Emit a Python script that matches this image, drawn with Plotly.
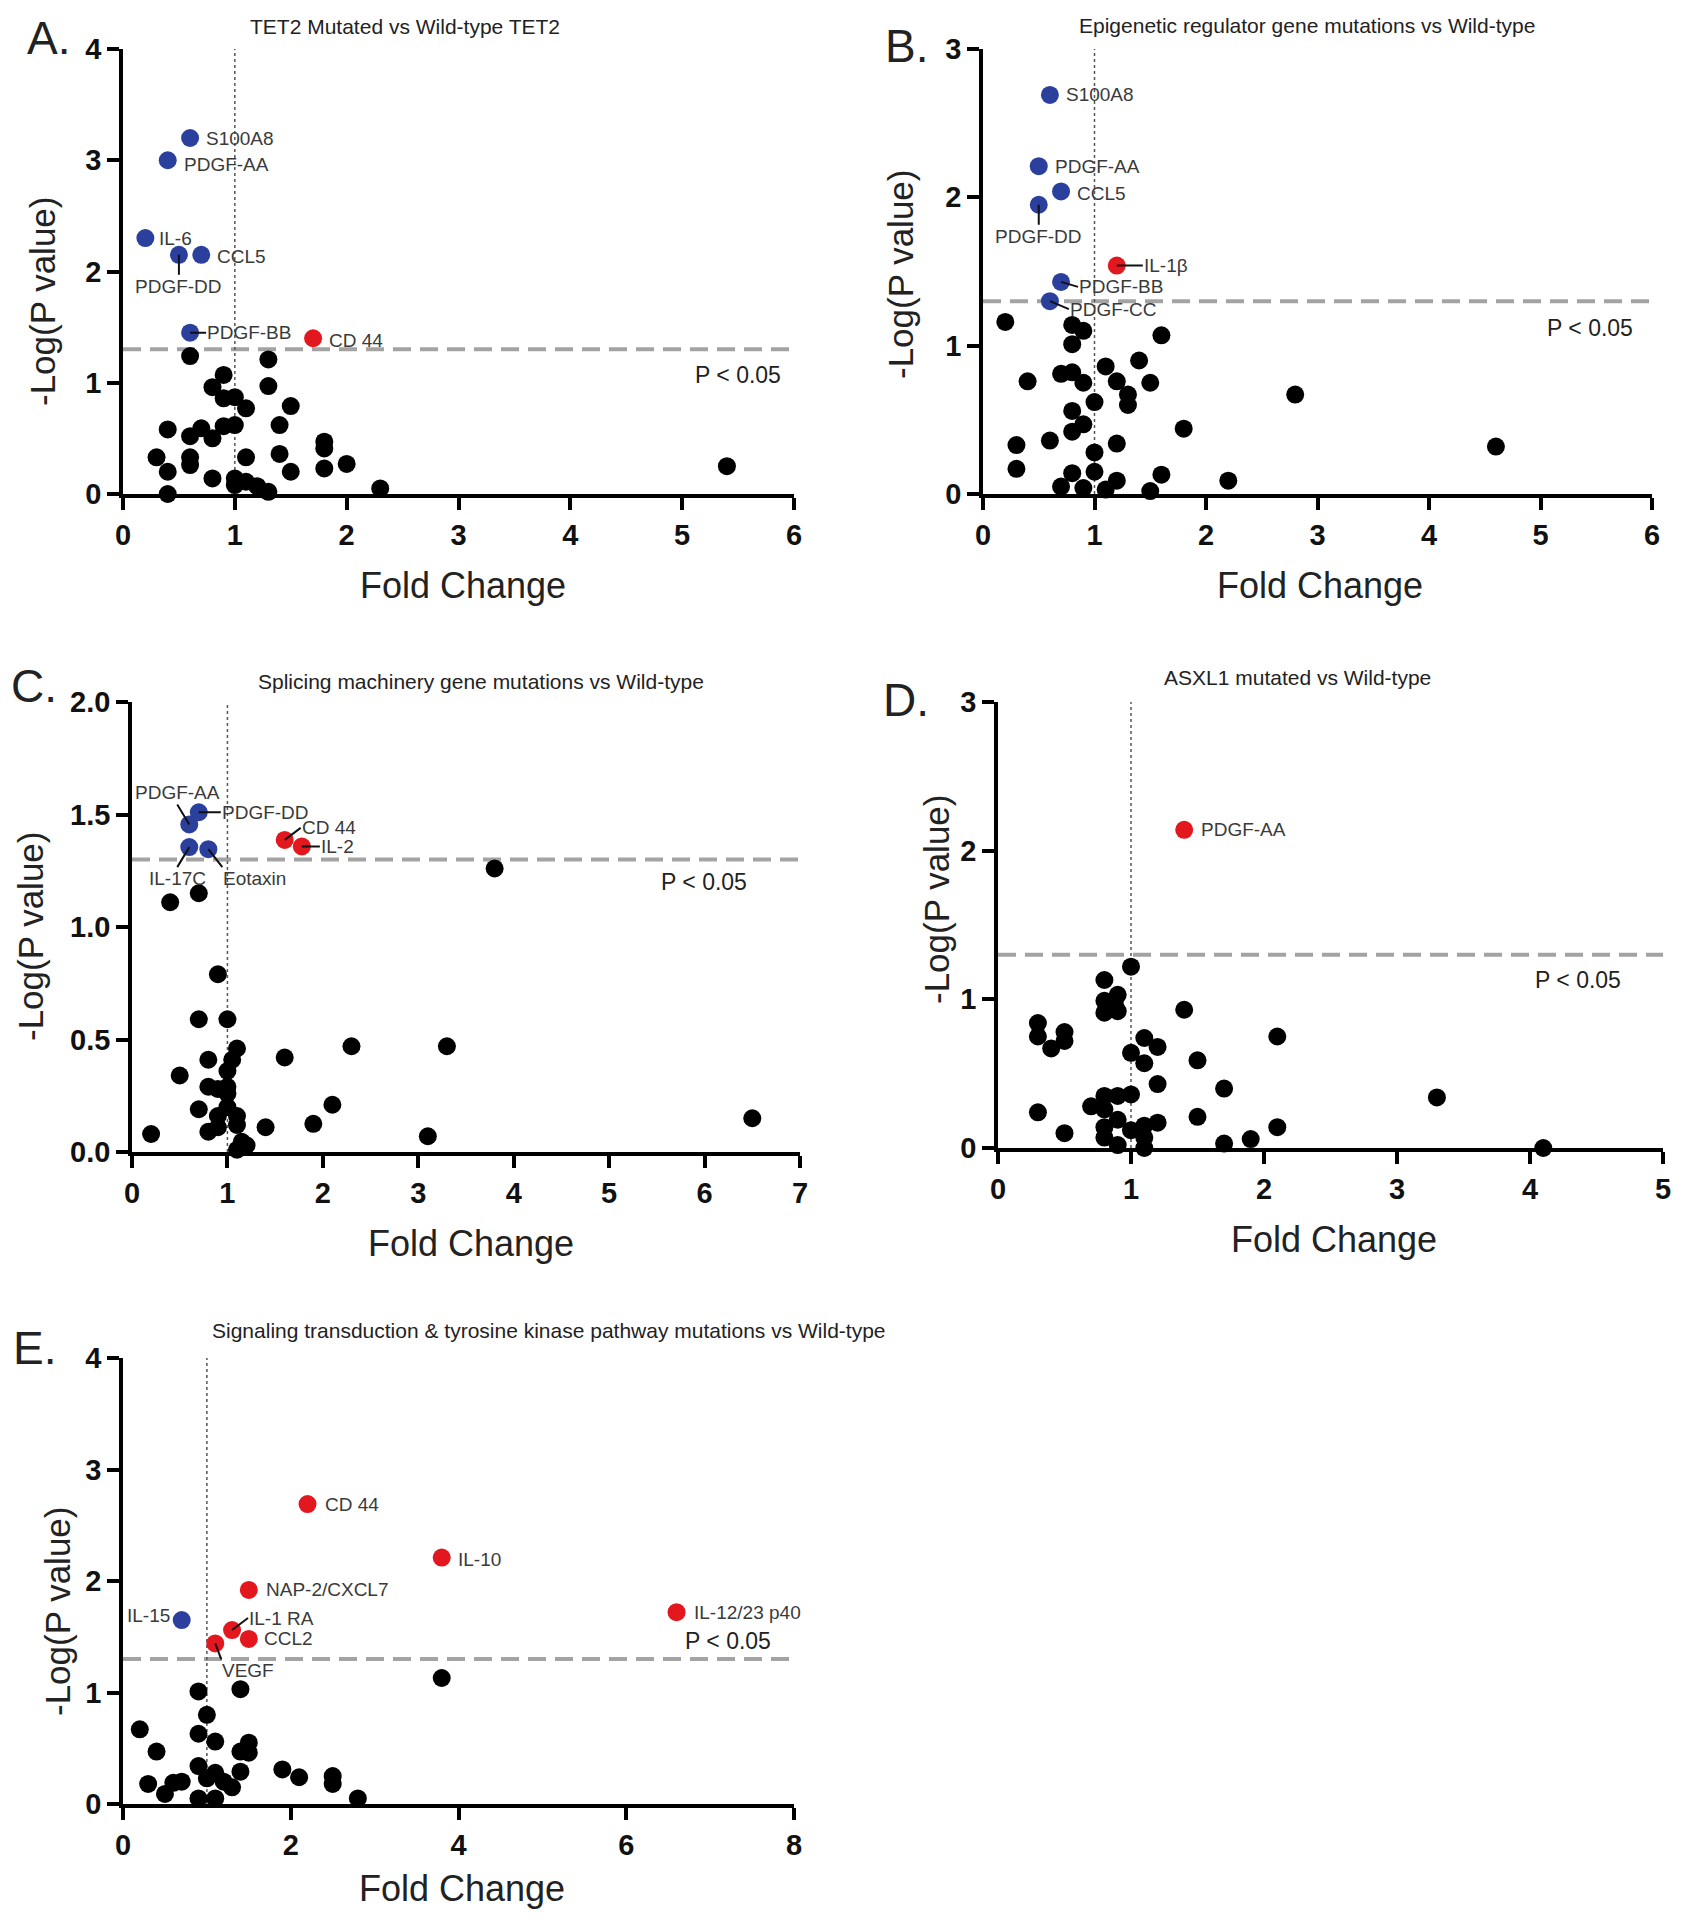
import plotly.graph_objects as go

# target picture is 1683x1920; the page body keeps an 8px margin, so the figure is
# sized to fit inside it and every pixel position is shifted by that margin.
TW, TH = 1683, 1920
OX, OY = 8, 8
FW, FH = TW - 2 * OX, TH - 2 * OY

FONT = "Liberation Sans, Arial, Helvetica, sans-serif"
BLUE = "#2b3f9c"
RED = "#e3171e"
BLACK = "#000000"
P_THRESHOLD = 1.3   # -log10(0.05)
FC_REF = 1.0

# ---------------- Panel A: TET2 ----------------
A_black_x = [0.6, 1.3, 0.9, 1.3, 0.8, 0.9, 1.0, 1.1, 1.5, 0.4, 0.7, 0.6, 0.8, 0.9, 1.0, 1.4, 0.3, 0.6,
             0.6, 1.1, 1.4, 1.8, 1.8, 2.0, 1.8, 0.4, 1.5, 0.8, 1.0, 1.1, 1.0, 1.2, 1.3, 0.4, 2.3, 5.4]
A_black_y = [1.24, 1.21, 1.07, 0.97, 0.96, 0.86, 0.87, 0.77, 0.79, 0.58, 0.59, 0.52, 0.50, 0.61, 0.62, 0.62, 0.33, 0.33,
             0.26, 0.33, 0.36, 0.47, 0.41, 0.27, 0.23, 0.20, 0.20, 0.14, 0.14, 0.11, 0.08, 0.07, 0.02, 0.0, 0.05, 0.25]
A_blue_names = ["S100A8", "PDGF-AA", "IL-6", "PDGF-DD", "CCL5", "PDGF-BB"]
A_blue_x = [0.6, 0.4, 0.2, 0.5, 0.7, 0.6]
A_blue_y = [3.2, 3.0, 2.3, 2.15, 2.15, 1.45]
A_red_names = ["CD 44"]
A_red_x = [1.7]
A_red_y = [1.40]

# ---------------- Panel B: Epigenetic ----------------
B_black_x = [0.2, 0.8, 0.9, 0.8, 1.6, 1.4, 1.1, 0.7, 0.8, 0.4, 0.9, 1.2, 1.5, 1.3, 1.3, 1.0, 0.8, 2.8,
             1.8, 0.9, 0.8, 0.6, 0.3, 1.2, 1.0, 4.6, 0.3, 0.8, 1.0, 1.6, 1.2, 2.2, 0.7, 0.9, 1.1, 1.5]
B_black_y = [1.16, 1.14, 1.10, 1.01, 1.07, 0.90, 0.86, 0.81, 0.82, 0.76, 0.75, 0.76, 0.75, 0.67, 0.60, 0.62, 0.56, 0.67,
             0.44, 0.47, 0.42, 0.36, 0.33, 0.34, 0.28, 0.32, 0.17, 0.14, 0.15, 0.13, 0.09, 0.09, 0.05, 0.04, 0.03, 0.02]
B_blue_names = ["S100A8", "PDGF-AA", "CCL5", "PDGF-DD", "PDGF-BB", "PDGF-CC"]
B_blue_x = [0.6, 0.5, 0.7, 0.5, 0.7, 0.6]
B_blue_y = [2.69, 2.21, 2.04, 1.95, 1.43, 1.30]
B_red_names = ["IL-1β"]
B_red_x = [1.2]
B_red_y = [1.54]

# ---------------- Panel C: Splicing ----------------
C_black_x = [3.8, 0.7, 0.4, 0.9, 0.7, 1.0, 1.1, 1.05, 1.0, 0.8, 0.5, 1.6, 2.3, 3.3, 0.8, 1.0, 1.0,
             0.7, 1.0, 0.9, 1.1, 2.1, 1.9, 1.4, 1.1, 0.8, 0.9, 0.2, 3.1, 6.5, 1.15, 1.2, 1.1, 0.9]
C_black_y = [1.26, 1.15, 1.11, 0.79, 0.59, 0.59, 0.46, 0.41, 0.36, 0.41, 0.34, 0.42, 0.47, 0.47, 0.29, 0.29, 0.26,
             0.19, 0.20, 0.16, 0.16, 0.21, 0.125, 0.11, 0.12, 0.09, 0.11, 0.08, 0.07, 0.15, 0.045, 0.03, 0.01, 0.28]
C_blue_names = ["PDGF-AA", "PDGF-DD", "IL-17C", "Eotaxin"]
C_blue_x = [0.6, 0.7, 0.6, 0.8]
C_blue_y = [1.456, 1.51, 1.355, 1.346]
C_red_names = ["CD 44", "IL-2"]
C_red_x = [1.6, 1.78]
C_red_y = [1.387, 1.358]

# ---------------- Panel D: ASXL1 ----------------
D_black_x = [1.0, 0.8, 0.9, 0.8, 0.88, 0.8, 0.9, 1.4, 0.3, 0.3, 0.5, 0.5, 0.4, 1.1, 1.2, 2.1, 1.0, 1.1,
             1.5, 1.2, 1.7, 3.3, 0.8, 0.9, 1.0, 0.7, 0.8, 0.3, 0.9, 1.5, 1.2, 1.1, 0.8, 2.1, 1.0, 0.5,
             0.8, 1.1, 1.9, 1.7, 0.9, 1.1, 4.1]
D_black_y = [1.22, 1.13, 1.03, 0.99, 0.96, 0.91, 0.92, 0.93, 0.84, 0.75, 0.78, 0.72, 0.67, 0.74, 0.68, 0.75, 0.64, 0.57,
             0.59, 0.43, 0.40, 0.34, 0.35, 0.35, 0.36, 0.28, 0.26, 0.24, 0.19, 0.21, 0.17, 0.15, 0.14, 0.14, 0.12, 0.10,
             0.07, 0.07, 0.06, 0.03, 0.02, 0.0, 0.0]
D_blue_names = []
D_blue_x = []
D_blue_y = []
D_red_names = ["PDGF-AA"]
D_red_x = [1.4]
D_red_y = [2.14]

# ---------------- Panel E: Signaling ----------------
E_black_x = [3.8, 0.9, 1.4, 1.0, 0.2, 0.9, 1.1, 1.5, 0.4, 1.4, 1.5, 0.9, 1.9, 1.4, 1.1, 1.0, 1.2, 2.1,
             2.5, 2.5, 0.3, 0.7, 0.6, 1.3, 0.5, 0.9, 1.1, 2.8]
E_black_y = [1.13, 1.01, 1.03, 0.80, 0.67, 0.63, 0.56, 0.55, 0.47, 0.47, 0.46, 0.34, 0.31, 0.29, 0.28, 0.23, 0.20, 0.24,
             0.25, 0.18, 0.18, 0.20, 0.19, 0.15, 0.09, 0.05, 0.05, 0.05]
E_blue_names = ["IL-15"]
E_blue_x = [0.7]
E_blue_y = [1.65]
E_red_names = ["CD 44", "IL-10", "NAP-2/CXCL7", "IL-12/23 p40", "IL-1 RA", "CCL2", "VEGF"]
E_red_x = [2.2, 3.8, 1.5, 6.6, 1.3, 1.5, 1.1]
E_red_y = [2.69, 2.21, 1.92, 1.72, 1.56, 1.48, 1.44]

# ---------------- layout specs (pixels in the 1683x1920 target picture) ----------------
PANELS = [
    dict(key="A", black=(A_black_x, A_black_y), blue=(A_blue_names, A_blue_x, A_blue_y),
         red=(A_red_names, A_red_x, A_red_y), xmax=6, xdt=1, ymax=4, ydt=1, yfmt="d",
         box=(123, 794, 49, 494), title="TET2 Mutated vs Wild-type TET2", title_xy=(405, 27),
         letter="A.", letter_xy=(48, 38), xt_xy=(463, 585), yt_xy=(42, 302), p_xy=(5.5, 1.07)),
    dict(key="B", black=(B_black_x, B_black_y), blue=(B_blue_names, B_blue_x, B_blue_y),
         red=(B_red_names, B_red_x, B_red_y), xmax=6, xdt=1, ymax=3, ydt=1, yfmt="d",
         box=(983, 1652, 49, 494), title="Epigenetic regulator gene mutations vs Wild-type", title_xy=(1307, 26),
         letter="B.", letter_xy=(906, 46), xt_xy=(1320, 585), yt_xy=(901, 275), p_xy=(5.44, 1.12)),
    dict(key="C", black=(C_black_x, C_black_y), blue=(C_blue_names, C_blue_x, C_blue_y),
         red=(C_red_names, C_red_x, C_red_y), xmax=7, xdt=1, ymax=2, ydt=0.5, yfmt=".1f",
         box=(132, 800, 702, 1152), title="Splicing machinery gene mutations vs Wild-type", title_xy=(481, 681),
         letter="C.", letter_xy=(34, 686), xt_xy=(471, 1243), yt_xy=(30, 937), p_xy=(5.99, 1.2)),
    dict(key="D", black=(D_black_x, D_black_y), blue=(D_blue_names, D_blue_x, D_blue_y),
         red=(D_red_names, D_red_x, D_red_y), xmax=5, xdt=1, ymax=3, ydt=1, yfmt="d",
         box=(998, 1663, 702, 1148), title="ASXL1 mutated vs Wild-type", title_xy=(1297, 677),
         letter="D.", letter_xy=(906, 700), xt_xy=(1334, 1239), yt_xy=(936, 900), p_xy=(4.36, 1.13)),
    dict(key="E", black=(E_black_x, E_black_y), blue=(E_blue_names, E_blue_x, E_blue_y),
         red=(E_red_names, E_red_x, E_red_y), xmax=8, xdt=2, ymax=4, ydt=1, yfmt="d",
         box=(123, 794, 1358, 1804),
         title="Signaling transduction & tyrosine kinase pathway mutations vs Wild-type", title_xy=(549, 1330),
         letter="E.", letter_xy=(34, 1348), xt_xy=(462, 1888), yt_xy=(57, 1612), p_xy=(7.21, 1.46)),
]

# label placement: ("t", dx, dy, xanchor) plain text; ("a", ax, ay, xanchor, yanchor) with leader line
LABEL_POS = {
    "A": {"S100A8": ("t", 14, 0, "left"), "PDGF-AA": ("t", 14, 4, "left"), "IL-6": ("t", 12, 0, "left"),
          "PDGF-DD": ("a", 0, 20, "center", "top"), "CCL5": ("t", 14, 2, "left"),
          "PDGF-BB": ("a", 16, 0, "left", "middle"), "CD 44": ("t", 14, 2, "left")},
    "B": {"S100A8": ("t", 14, 0, "left"), "PDGF-AA": ("t", 14, 0, "left"), "CCL5": ("t", 14, 2, "left"),
          "PDGF-DD": ("a", 0, 20, "center", "top"), "IL-1β": ("a", 26, 0, "left", "middle"),
          "PDGF-BB": ("a", 17, 5, "left", "middle"), "PDGF-CC": ("a", 19, 8, "left", "middle")},
    "C": {"PDGF-AA": ("a", -12, -20, "center", "bottom"), "PDGF-DD": ("a", 22, 0, "left", "middle"),
          "IL-17C": ("a", -12, 20, "center", "top"), "Eotaxin": ("a", 14, 18, "left", "top"),
          "CD 44": ("a", 16, -12, "left", "middle"), "IL-2": ("a", 18, 0, "left", "middle")},
    "D": {"PDGF-AA": ("t", 15, 0, "left")},
    "E": {"CD 44": ("t", 15, 0, "left"), "IL-10": ("t", 14, 2, "left"), "NAP-2/CXCL7": ("t", 15, 0, "left"),
          "IL-12/23 p40": ("t", 15, 0, "left"), "IL-15": ("t", -10, -5, "right"),
          "IL-1 RA": ("a", 16, -12, "left", "middle"), "CCL2": ("t", 13, 0, "left"),
          "VEGF": ("a", 6, 16, "left", "top")},
}


def px(x):
    return (x - OX) / FW


def py(y):
    return 1 - (y - OY) / FH


fig = go.Figure()
layout = dict(width=FW, height=FH, margin=dict(l=0, r=0, t=0, b=0, autoexpand=False), showlegend=False,
              paper_bgcolor="white", plot_bgcolor="white", font=dict(family=FONT, color="#222"))
annotations = []
shapes = []
LABEL_FONT = dict(family=FONT, size=19, color="#3a3a3a")

for i, p in enumerate(PANELS, start=1):
    xa = "x" if i == 1 else f"x{i}"
    ya = "y" if i == 1 else f"y{i}"
    xkey = "xaxis" if i == 1 else f"xaxis{i}"
    ykey = "yaxis" if i == 1 else f"yaxis{i}"
    x0, x1, y0, y1 = p["box"]
    common = dict(showgrid=False, zeroline=False, showline=True, linecolor="black", linewidth=3.5,
                  ticks="outside", ticklen=12, tickwidth=3.5, tickcolor="black",
                  tickfont=dict(family=FONT, size=29, color="#111", weight="bold"), fixedrange=True)
    layout[xkey] = dict(domain=[px(x0), px(x1)], range=[0, p["xmax"]], anchor=ya,
                        tickmode="linear", tick0=0, dtick=p["xdt"], **common)
    layout[ykey] = dict(domain=[py(y1), py(y0)], range=[0, p["ymax"]], anchor=xa,
                        tickmode="linear", tick0=0, dtick=p["ydt"], tickformat=p["yfmt"], **common)

    bx, by = p["black"]
    fig.add_trace(go.Scatter(x=bx, y=by, mode="markers", xaxis=xa, yaxis=ya, cliponaxis=False,
                             marker=dict(size=18, color=BLACK, line=dict(width=0))))
    for (names, xs, ys), col in ((p["blue"], BLUE), (p["red"], RED)):
        if not xs:
            continue
        fig.add_trace(go.Scatter(x=xs, y=ys, mode="markers", xaxis=xa, yaxis=ya, cliponaxis=False,
                                 text=names, marker=dict(size=18, color=col, line=dict(width=0))))
        for n, xv, yv in zip(names, xs, ys):
            spec = LABEL_POS[p["key"]][n]
            if spec[0] == "t":
                annotations.append(dict(x=xv, y=yv, xref=xa, yref=ya, text=n, showarrow=False,
                                        xanchor=spec[3], yanchor="middle", xshift=spec[1], yshift=-spec[2],
                                        font=LABEL_FONT))
            else:
                annotations.append(dict(x=xv, y=yv, xref=xa, yref=ya, text=n, showarrow=True,
                                        arrowhead=0, arrowwidth=2, arrowcolor="#111", standoff=0,
                                        ax=spec[1], ay=spec[2], axref="pixel", ayref="pixel",
                                        xanchor=spec[3], yanchor=spec[4], font=LABEL_FONT, borderpad=0))

    # threshold and reference lines
    shapes.append(dict(type="line", xref=xa, yref=ya, x0=0, x1=p["xmax"], y0=P_THRESHOLD, y1=P_THRESHOLD,
                       line=dict(color="#a3a3a3", width=4, dash="18px,9px"), layer="below"))
    shapes.append(dict(type="line", xref=xa, yref=ya, x0=FC_REF, x1=FC_REF, y0=0, y1=p["ymax"],
                       line=dict(color="#555555", width=1.5, dash="dot"), layer="below"))

    annotations.append(dict(x=p["p_xy"][0], y=p["p_xy"][1], xref=xa, yref=ya, text="P < 0.05",
                            showarrow=False, font=dict(family=FONT, size=23, color="#222")))
    annotations.append(dict(x=px(p["title_xy"][0]), y=py(p["title_xy"][1]), xref="paper", yref="paper",
                            text=p["title"], showarrow=False, xanchor="center", yanchor="middle",
                            font=dict(family=FONT, size=21, color="#222")))
    annotations.append(dict(x=px(p["letter_xy"][0]), y=py(p["letter_xy"][1]), xref="paper", yref="paper",
                            text=p["letter"], showarrow=False, xanchor="center", yanchor="middle",
                            font=dict(family=FONT, size=46, color="#222"), borderpad=0))
    annotations.append(dict(x=px(p["xt_xy"][0]), y=py(p["xt_xy"][1]), xref="paper", yref="paper",
                            text="Fold Change", showarrow=False, xanchor="center", yanchor="middle",
                            font=dict(family=FONT, size=36, color="#222"), borderpad=0))
    annotations.append(dict(x=px(p["yt_xy"][0]), y=py(p["yt_xy"][1]), xref="paper", yref="paper",
                            text="-Log(P value)", showarrow=False, xanchor="center", yanchor="middle",
                            textangle=-90, font=dict(family=FONT, size=35, color="#222"), borderpad=0))

layout["annotations"] = annotations
layout["shapes"] = shapes
fig.update_layout(**layout)
fig.write_html("out.html", config={"displayModeBar": False})
